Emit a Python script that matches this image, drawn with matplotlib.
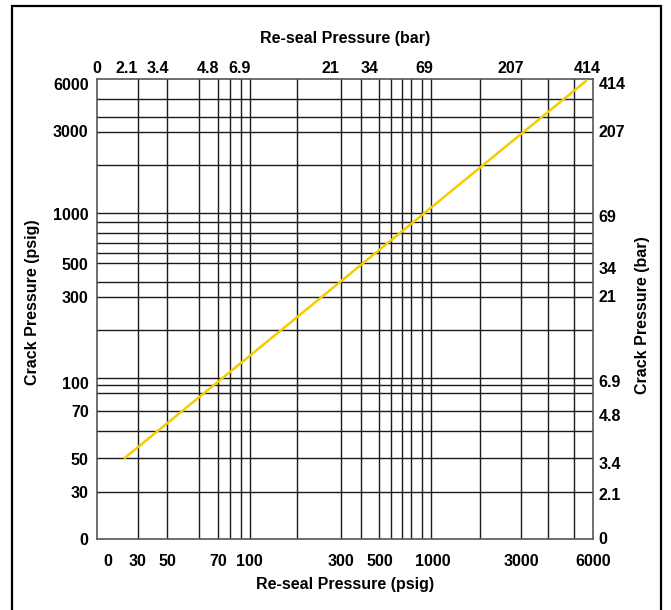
import matplotlib.pyplot as plt
from matplotlib.patches import Rectangle
from matplotlib.ticker import NullLocator

plt.rcParams['font.family'] = ['Liberation Sans', 'DejaVu Sans']
plt.rcParams['font.weight'] = 'bold'

# re-seal pressure (psig) grid lines on a log scale
x_grid = [24, 35, 52, 67, 78, 89, 100, 183, 318, 411, 519, 605, 692, 780, 892,
          1000, 1860, 3140, 4430, 6130]
# crack pressure (psig) grid lines
y_grid = [4750, 3710, 3030, 1930, 1000, 884, 761, 663, 579, 505, 390, 318, 202,
          105, 95, 85, 67, 51, 35, 22]

x_lim = (14.3, 7850)
y_lim = (11.6, 6240)

# tick labels and where they sit on the scale
bottom_vals = [16.4, 23.8, 35.0, 66.6, 98.7, 318, 523, 1026, 3162, 7850]
bottom_labels = ['0', '30', '50', '70', '100', '300', '500', '1000', '3000', '6000']
top_vals = [14.3, 20.9, 31.0, 58.6, 88.1, 280, 460, 915, 2767, 7314]
top_labels = ['0', '2.1', '3.4', '4.8', '6.9', '21', '34', '69', '207', '414']
left_vals = [11.6, 22.1, 34.7, 66.8, 98, 317, 498, 987, 3067, 5830]
left_labels = ['0', '30', '50', '70', '100', '300', '500', '1000', '3000', '6000']
right_vals = [11.8, 21.5, 32.8, 63.3, 101, 322, 472, 960, 3067, 5908]
right_labels = ['0', '2.1', '3.4', '4.8', '6.9', '21', '34', '69', '207', '414']

# the crack vs re-seal line
line_x = [20.4, 7180]
line_y = [35.2, 6075]

FS = 11.5

fig = plt.figure(figsize=(6.71, 6.10), dpi=100)
ax = fig.add_axes([97 / 671, 71 / 610, 496 / 671, 460 / 610])
ax.set_xscale('log')
ax.set_yscale('log')
ax.set_xlim(*x_lim)
ax.set_ylim(*y_lim)

for xv in x_grid:
    ax.axvline(xv, color='#1a1a1a', lw=1.0, zorder=1)
for yv in y_grid:
    ax.axhline(yv, color='#1a1a1a', lw=1.0, zorder=1)

ax.plot(line_x, line_y, color='#f5cc00', lw=1.8, zorder=3)

for s in ax.spines.values():
    s.set_color('#555555')
    s.set_linewidth(1.2)

ax.set_xticks(bottom_vals, bottom_labels)
ax.set_yticks(left_vals, left_labels)
ax.xaxis.set_minor_locator(NullLocator())
ax.yaxis.set_minor_locator(NullLocator())
ax.tick_params(axis='x', length=0, pad=11, labelsize=FS)
ax.tick_params(axis='y', length=0, pad=6, labelsize=FS)

ax_top = ax.twiny()
ax_top.set_xscale('log')
ax_top.set_xlim(*x_lim)
ax_top.set_xticks(top_vals, top_labels)
ax_top.xaxis.set_minor_locator(NullLocator())
ax_top.tick_params(axis='x', length=0, pad=2, labelsize=FS)

ax_right = ax.twinx()
ax_right.set_yscale('log')
ax_right.set_ylim(*y_lim)
ax_right.set_yticks(right_vals, right_labels)
ax_right.yaxis.set_minor_locator(NullLocator())
ax_right.tick_params(axis='y', length=0, pad=4, labelsize=FS)

for a in (ax_top, ax_right):
    for s in a.spines.values():
        s.set_visible(False)

fig.text(345 / 671, 1 - 39 / 610, 'Re-seal Pressure (bar)', ha='center', va='center',
         fontsize=FS, fontweight='bold')
fig.text(345 / 671, 1 - 585 / 610, 'Re-seal Pressure (psig)', ha='center', va='center',
         fontsize=FS, fontweight='bold')
fig.text(33 / 671, 1 - 302 / 610, 'Crack Pressure (psig)', ha='center', va='center',
         rotation=90, fontsize=FS, fontweight='bold')
fig.text(643 / 671, 1 - 315 / 610, 'Crack Pressure (bar)', ha='center', va='center',
         rotation=90, fontsize=FS, fontweight='bold')

# outer frame
fig.patches.append(Rectangle((12 / 671, -0.01), 649 / 671, 1 - 6 / 610 + 0.01,
                             transform=fig.transFigure, fill=False,
                             edgecolor='black', lw=1.6))

fig.savefig('out.png', dpi=100)
